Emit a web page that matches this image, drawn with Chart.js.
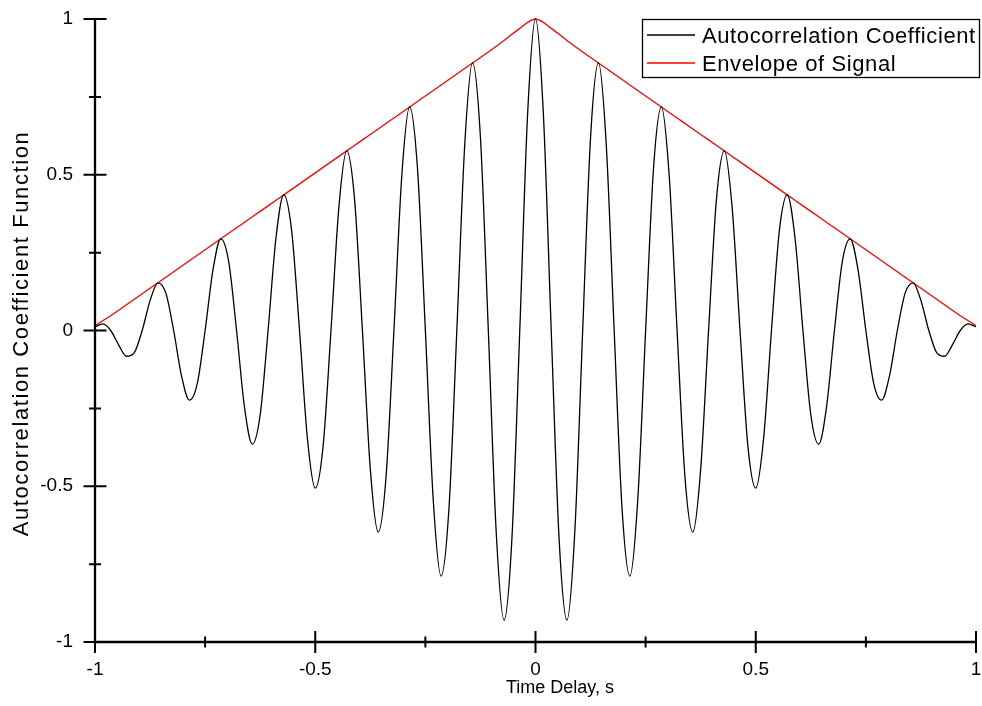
<!DOCTYPE html>
<html><head><meta charset="utf-8">
<script src="https://cdn.jsdelivr.net/npm/chart.js@4.4.1/dist/chart.umd.min.js"></script>
<style>html,body{margin:0;padding:0;background:#fff;}#wrap{width:982px;height:706px;}</style>
</head><body><div id="wrap"><canvas id="c" width="982" height="706"></canvas></div>
<script>
// Time delays (s) of the autocorrelation samples
const lags = [-1,-0.9821,-0.9643,-0.9464,-0.9286,-0.9107,-0.8929,-0.875,-0.8571,-0.8393,-0.8214,-0.8036,-0.7857,-0.7679,-0.75,-0.7321,-0.7143,-0.6964,-0.6786,-0.6607,-0.6429,-0.625,-0.6071,-0.5893,-0.5714,-0.5536,-0.5357,-0.5179,-0.5,-0.4821,-0.4643,-0.4464,-0.4286,-0.4107,-0.3929,-0.375,-0.3571,-0.3393,-0.3214,-0.3036,-0.2857,-0.2679,-0.25,-0.2321,-0.2143,-0.1964,-0.1786,-0.1607,-0.1429,-0.125,-0.1071,-0.0893,-0.0714,-0.0536,-0.0357,-0.0179,0,0.0179,0.0357,0.0536,0.0714,0.0893,0.1071,0.125,0.1429,0.1607,0.1786,0.1964,0.2143,0.2321,0.25,0.2679,0.2857,0.3036,0.3214,0.3393,0.3571,0.375,0.3929,0.4107,0.4286,0.4464,0.4643,0.4821,0.5,0.5179,0.5357,0.5536,0.5714,0.5893,0.6071,0.625,0.6429,0.6607,0.6786,0.6964,0.7143,0.7321,0.75,0.7679,0.7857,0.8036,0.8214,0.8393,0.8571,0.875,0.8929,0.9107,0.9286,0.9464,0.9643,0.9821,1];
// Autocorrelation coefficient
const autocorr = [0.012,0.021,0,-0.0459,-0.0826,-0.0709,0,0.0958,0.1531,0.1208,0,-0.1457,-0.2237,-0.1707,0,0.1956,0.2943,0.2206,0,-0.2455,-0.3649,-0.2705,0,0.2954,0.4354,0.3204,0,-0.3453,-0.506,-0.3703,0,0.3952,0.5766,0.4202,0,-0.4451,-0.6471,-0.4701,0,0.495,0.7177,0.52,0,-0.5449,-0.7883,-0.5699,0,0.5948,0.8589,0.6198,0,-0.6447,-0.9294,-0.6697,0,0.6946,1,0.6946,0,-0.6697,-0.9294,-0.6447,0,0.6198,0.8589,0.5948,0,-0.5699,-0.7883,-0.5449,0,0.52,0.7177,0.495,0,-0.4701,-0.6471,-0.4451,0,0.4202,0.5766,0.3952,0,-0.3703,-0.506,-0.3453,0,0.3204,0.4354,0.2954,0,-0.2705,-0.3649,-0.2455,0,0.2206,0.2943,0.1956,0,-0.1707,-0.2237,-0.1457,0,0.1208,0.1531,0.0958,0,-0.0709,-0.0826,-0.0459,0,0.021,0.012];
// Envelope samples
const envLags = [-1,-0.9643,-0.9286,-0.8929,-0.8571,-0.8214,-0.7857,-0.75,-0.7143,-0.6786,-0.6429,-0.6071,-0.5714,-0.5357,-0.5,-0.4643,-0.4286,-0.3929,-0.3571,-0.3214,-0.2857,-0.25,-0.2143,-0.1786,-0.1429,-0.1071,-0.0714,-0.0357,0,0.0357,0.0714,0.1071,0.1429,0.1786,0.2143,0.25,0.2857,0.3214,0.3571,0.3929,0.4286,0.4643,0.5,0.5357,0.5714,0.6071,0.6429,0.6786,0.7143,0.75,0.7857,0.8214,0.8571,0.8929,0.9286,0.9643,1];
const envelope = [0.016,0.0475,0.0826,0.1179,0.1531,0.1884,0.2237,0.259,0.2943,0.3296,0.3649,0.4001,0.4354,0.4707,0.506,0.5413,0.5766,0.6119,0.6471,0.6824,0.7177,0.753,0.7883,0.8236,0.8589,0.8941,0.931,0.97,1,0.97,0.931,0.8941,0.8589,0.8236,0.7883,0.753,0.7177,0.6824,0.6471,0.6119,0.5766,0.5413,0.506,0.4707,0.4354,0.4001,0.3649,0.3296,0.2943,0.259,0.2237,0.1884,0.1531,0.1179,0.0826,0.0475,0.016];
const seriesNames = ['Autocorrelation Coefficient', 'Envelope of Signal'];
const seriesColors = ['#000000', '#ff0000'];
const xTicks = [-1, -0.5, 0, 0.5, 1];
const xTickLabels = ['-1', '-0.5', '0', '0.5', '1'];
const xMinorTicks = [-0.75, -0.25, 0.25, 0.75];
const yTicks = [-1, -0.5, 0, 0.5, 1];
const yTickLabels = ['-1', '-0.5', '0', '0.5', '1'];
const yMinorTicks = [-0.75, -0.25, 0.25, 0.75];
const xTitle = 'Time Delay, s';
const yTitle = 'Autocorrelation Coefficient Function';

const FONT = "'Liberation Sans', Arial, sans-serif";

const toXY = (xs, ys) => xs.map((v, i) => ({x: v, y: ys[i]}));

const decorPlugin = {
  id: 'decor',
  afterDraw(chart) {
    const ctx = chart.ctx;
    const xs = chart.scales.x, ys = chart.scales.y;
    const x0 = xs.getPixelForValue(-1), x1 = xs.getPixelForValue(1);
    const y0 = ys.getPixelForValue(-1), y1 = ys.getPixelForValue(1);
    ctx.save();
    ctx.strokeStyle = '#000';
    ctx.lineWidth = 2.3;
    ctx.lineCap = 'butt';
    ctx.beginPath();
    ctx.moveTo(x0, y1); ctx.lineTo(x0, y0);
    ctx.moveTo(x0, y0); ctx.lineTo(x1, y0);
    ctx.stroke();
    ctx.lineWidth = 2;
    ctx.beginPath();
    yTicks.forEach(v => { const p = ys.getPixelForValue(v); ctx.moveTo(x0 - 11.5, p); ctx.lineTo(x0 + 11.5, p); });
    yMinorTicks.forEach(v => { const p = ys.getPixelForValue(v); ctx.moveTo(x0 - 6, p); ctx.lineTo(x0 + 6, p); });
    xTicks.forEach(v => { const p = xs.getPixelForValue(v); ctx.moveTo(p, y0 - 11); ctx.lineTo(p, y0 + 11); });
    xMinorTicks.forEach(v => { const p = xs.getPixelForValue(v); ctx.moveTo(p, y0 - 5.5); ctx.lineTo(p, y0 + 5.5); });
    ctx.stroke();

    // axis titles
    ctx.fillStyle = '#000';
    ctx.font = '18px ' + FONT;
    ctx.textAlign = 'center';
    ctx.textBaseline = 'alphabetic';
    ctx.fillText(xTitle, 560, 693);
    ctx.save();
    ctx.translate(28, (y0 + y1) / 2 + 3);
    ctx.rotate(-Math.PI / 2);
    ctx.font = '22px ' + FONT;
    ctx.letterSpacing = '1.6px';
    ctx.fillText(yTitle, 0, 0);
    ctx.restore();

    // legend
    const bx = 642, by = 19, bw = 338, bh = 59;
    ctx.fillStyle = '#fff';
    ctx.fillRect(bx, by, bw, bh);
    ctx.strokeStyle = '#000';
    ctx.lineWidth = 1.3;
    ctx.strokeRect(bx + 0.5, by + 0.5, bw - 1, bh - 1);
    const rows = [35, 63];
    chart.data.datasets.forEach((ds, i) => {
      ctx.strokeStyle = ds.borderColor;
      ctx.lineWidth = 1.3;
      ctx.beginPath();
      ctx.moveTo(647, rows[i]); ctx.lineTo(695, rows[i]);
      ctx.stroke();
      ctx.fillStyle = '#000';
      ctx.font = '22px ' + FONT;
      ctx.letterSpacing = '0.6px';
      ctx.textAlign = 'left';
      ctx.textBaseline = 'alphabetic';
      ctx.fillText(ds.label, 702, rows[i] + 8);
    });
    ctx.restore();
  }
};

const zeroPad = s => { s.paddingLeft = 0; s.paddingRight = 0; s.paddingTop = 0; s.paddingBottom = 0; };

new Chart(document.getElementById('c'), {
  type: 'line',
  data: {
    datasets: [
      { label: seriesNames[0], data: toXY(lags, autocorr), borderColor: seriesColors[0], borderWidth: 1.3,
        pointRadius: 0, cubicInterpolationMode: 'monotone', fill: false, clip: false },
      { label: seriesNames[1], data: toXY(envLags, envelope), borderColor: seriesColors[1], borderWidth: 1.3,
        pointRadius: 0, cubicInterpolationMode: 'monotone', fill: false, clip: false }
    ]
  },
  options: {
    responsive: false,
    devicePixelRatio: 1,
    animation: false,
    layout: { padding: { top: 19, right: 6, left: 0, bottom: 0 } },
    plugins: { legend: { display: false }, tooltip: { enabled: false } },
    scales: {
      x: {
        type: 'linear', min: -1, max: 1,
        afterBuildTicks: s => { s.ticks = xTicks.map(v => ({value: v})); },
        afterFit: s => { s.height = 64; zeroPad(s); },
        grid: { display: false, drawTicks: false },
        border: { display: false },
        ticks: { padding: 16, color: '#000', font: { family: FONT, size: 19 },
                 callback: v => xTickLabels[xTicks.indexOf(v)] , maxRotation: 0 }
      },
      y: {
        type: 'linear', min: -1, max: 1,
        afterBuildTicks: s => { s.ticks = yTicks.map(v => ({value: v})); },
        afterFit: s => { s.width = 95; zeroPad(s); },
        grid: { display: false, drawTicks: false },
        border: { display: false },
        ticks: { padding: 22, color: '#000', font: { family: FONT, size: 19 },
                 callback: v => yTickLabels[yTicks.indexOf(v)] }
      }
    }
  },
  plugins: [decorPlugin]
});
</script></body></html>
